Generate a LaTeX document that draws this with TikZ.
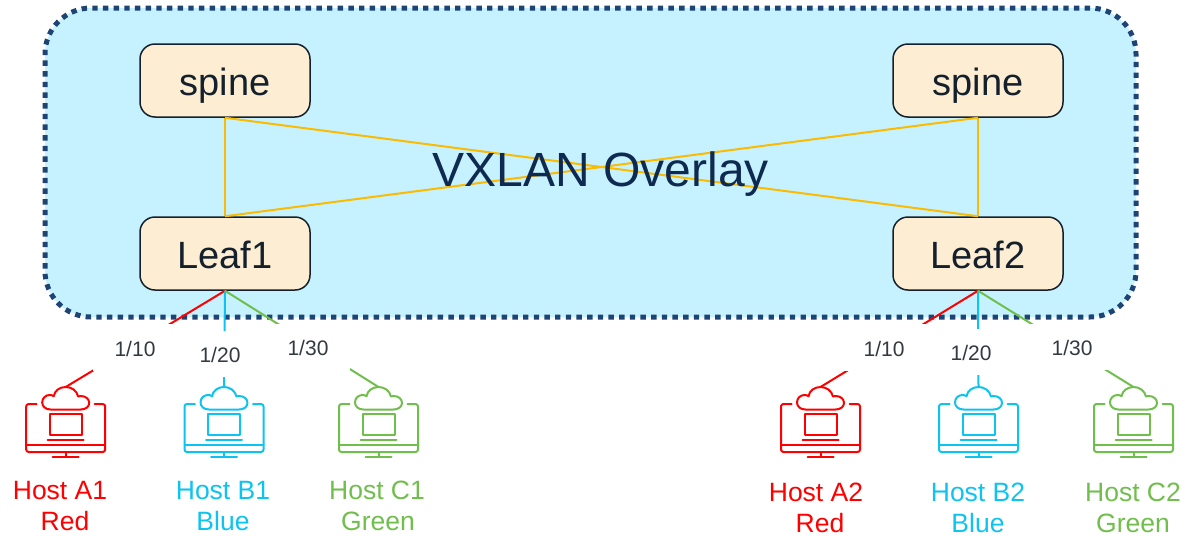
\documentclass[tikz,border=0pt]{standalone}
\usepackage{fontspec}
\setmainfont{Liberation Sans}
\definecolor{ovfill}{HTML}{C6F2FF}
\definecolor{ovline}{HTML}{1D4474}
\definecolor{boxfill}{HTML}{FDEED3}
\definecolor{boxline}{HTML}{14202B}
\definecolor{link}{HTML}{FBBB00}
\definecolor{nred}{HTML}{FF0000}
\definecolor{nblue}{HTML}{0DC3F0}
\definecolor{ngreen}{HTML}{70BF4C}
\definecolor{navy}{HTML}{0E2A50}
\definecolor{graytext}{HTML}{333A40}
\tikzset{
  overlaybox/.style={draw=ovline,fill=ovfill,line width=5pt,dash pattern=on 5.4pt off 5.27pt,rounded corners=46pt,minimum width=1091pt,minimum height=309pt,inner sep=0pt},
  device/.style={draw=boxline,fill=boxfill,line width=1.5pt,rounded corners=15pt,minimum width=170pt,minimum height=73pt,inner sep=0pt,font=\fontsize{38}{40}\selectfont,text=boxline,text height=30pt,text depth=0pt},
  ovtitle/.style={font=\fontsize{48}{50}\selectfont,text=navy,inner sep=0pt,anchor=base},
  portlabel/.style={fill=white,inner sep=0pt,font=\fontsize{21}{22}\selectfont,text=graytext,text height=17pt,text depth=0pt},
  hostlabel/.style={inner sep=0pt,font=\fontsize{26.5}{30}\selectfont,anchor=base},
  uplink/.style={draw=link,line width=2pt},
  hostlink/.style={line width=2pt},
  hostline/.style={line width=2pt,line join=round,line cap=round},
  hosticon/.pic={
    \draw[hostline,#1]
      (-15,22.5) .. controls (-20,22.5) and (-23.5,19.5) .. (-23.5,15.5) .. controls (-23.5,11) and (-20,8) .. (-16,8)
      .. controls (-14.5,8) and (-13,8.4) .. (-12,9.2) .. controls (-11,3.5) and (-6,0) .. (0,0)
      .. controls (6,0) and (11,3.5) .. (12.5,9.5) .. controls (13.2,9.2) and (14.2,9) .. (15,9)
      .. controls (20,9) and (23.5,12) .. (23.5,15.8) .. controls (23.5,19.8) and (20,22.5) .. (15,22.5) -- cycle;
    \draw[hostline,#1,rounded corners=2.5pt] (-29,17) -- (-39.5,17) -- (-39.5,65) -- (39.5,65) -- (39.5,17) -- (29,17);
    \draw[hostline,#1] (-39.5,58) -- (39.5,58) (0,65) -- (0,70) (-13,70) -- (13,70) (-18,53) -- (18,53);
    \draw[hostline,#1,line cap=butt] (-16,27) rectangle (16,48);
  }
}
\begin{document}
\begin{tikzpicture}[x=1pt,y=-1pt]
\useasboundingbox (0,0) rectangle (1188,536);
\node[overlaybox] (overlay) at (590.5,162.5) {};
\node[device] (s1) at (225,80.5) {spine};
\node[device] (s2) at (978,80.5) {spine};
\node[device] (l1) at (225,253.5) {Leaf1};
\node[device] (l2) at (978,253.5) {Leaf2};
\draw[uplink] (s1.south) -- (l1.north);
\draw[uplink] (s2.south) -- (l2.north);
\draw[uplink] (s1.south) -- (l2.north);
\draw[uplink] (s2.south) -- (l1.north);
\node[ovtitle] (title) at (601,186) {VXLAN Overlay};
\coordinate (ha1) at (65.7,387);
\coordinate (hb1) at (224,387);
\coordinate (hc1) at (378.5,387);
\coordinate (ha2) at (820.5,387);
\coordinate (hb2) at (978.5,387);
\coordinate (hc2) at (1133.5,387);
\draw[hostlink,nred] (l1.south) -- (ha1);
\draw[hostlink,nblue] (l1.south) -- (hb1);
\draw[hostlink,ngreen] (l1.south) -- (hc1);
\draw[hostlink,nred] (l2.south) -- (ha2);
\draw[hostlink,nblue] (l2.south) -- (hb2);
\draw[hostlink,ngreen] (l2.south) -- (hc2);
\node[portlabel,minimum width=84pt,minimum height=47pt] (p1) at (135,347.5) {1/10};
\node[portlabel,minimum width=46pt,minimum height=46pt] (p2) at (220,353.5) {1/20};
\node[portlabel,minimum width=84pt,minimum height=46pt] (p3) at (308,346.5) {1/30};
\node[portlabel,minimum width=84pt,minimum height=47pt] (p4) at (884,347.5) {1/10};
\node[portlabel,minimum width=46pt,minimum height=46pt] (p5) at (971,351.5) {1/20};
\node[portlabel,minimum width=84pt,minimum height=46pt] (p6) at (1072,346.5) {1/30};
\pic at (ha1) {hosticon=nred};
\pic at (hb1) {hosticon=nblue};
\pic at (hc1) {hosticon=ngreen};
\pic at (ha2) {hosticon=nred};
\pic at (hb2) {hosticon=nblue};
\pic at (hc2) {hosticon=ngreen};
\node[hostlabel,text=nred] (t1) at (60,499) {Host A1};
\node[hostlabel,text=nred] (t2) at (65,530) {Red};
\node[hostlabel,text=nblue] (t3) at (223,499) {Host B1};
\node[hostlabel,text=nblue] (t4) at (223,530) {Blue};
\node[hostlabel,text=ngreen] (t5) at (377,499) {Host C1};
\node[hostlabel,text=ngreen] (t6) at (378,530) {Green};
\node[hostlabel,text=nred] (t7) at (816,501) {Host A2};
\node[hostlabel,text=nred] (t8) at (820,532) {Red};
\node[hostlabel,text=nblue] (t9) at (978,501) {Host B2};
\node[hostlabel,text=nblue] (t10) at (978,532) {Blue};
\node[hostlabel,text=ngreen] (t11) at (1133,501) {Host C2};
\node[hostlabel,text=ngreen] (t12) at (1133,532) {Green};
\end{tikzpicture}
\end{document}
